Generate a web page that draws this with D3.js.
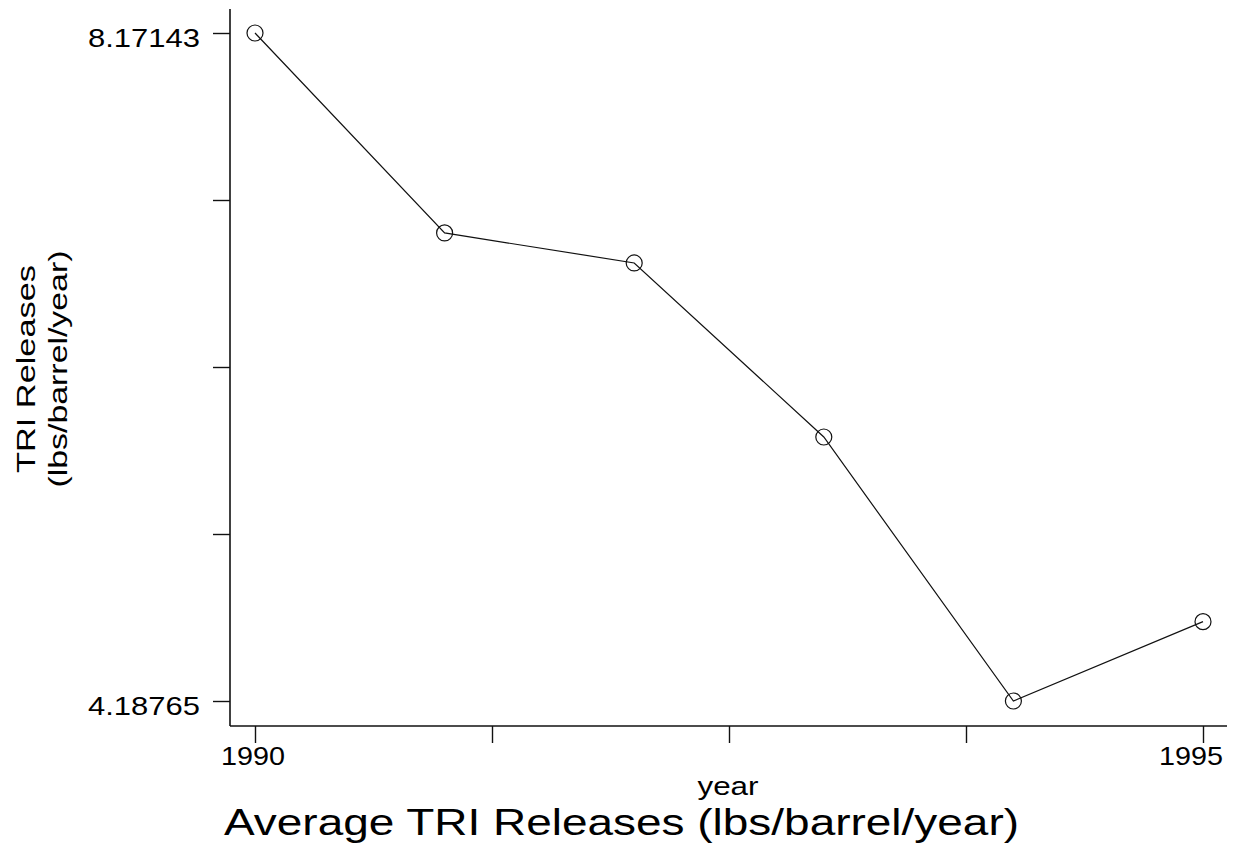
<!DOCTYPE html>
<html>
<head>
<meta charset="utf-8">
<script src="https://cdn.jsdelivr.net/npm/d3@7"></script>
<style>
  body { margin: 0; background: #fff; }
  text { font-family: "Liberation Sans", Arial, sans-serif; fill: #000; }
</style>
</head>
<body>
<svg id="chart" width="1233" height="851"></svg>
<script>
// data
var years = [1990, 1991, 1992, 1993, 1994, 1995];
var releases = [8.17143, 6.979, 6.800, 5.762, 4.18765, 4.661];

var xTickValues = [1990, 1991.25, 1992.5, 1993.75, 1995];
var xTickLabels = ["1990", "", "", "", "1995"];
var yMin = 4.18765, yMax = 8.17143;
var yTickValues = d3.range(5).map(function (i) { return yMin + i * (yMax - yMin) / 4; });
var yTickLabels = ["4.18765", "", "", "", "8.17143"];

var svg = d3.select("#chart");

var x = d3.scaleLinear().domain([1990, 1995]).range([255, 1203]);
var y = d3.scaleLinear().domain([yMin, yMax]).range([701, 33]);

// axis lines run a bit past the data range, like the original
svg.append("line")
    .attr("x1", 230).attr("x2", 230)
    .attr("y1", 9).attr("y2", 726)
    .attr("stroke", "#111").attr("stroke-width", 1.6);
svg.append("line")
    .attr("x1", 230).attr("x2", 1227)
    .attr("y1", 726).attr("y2", 726)
    .attr("stroke", "#111").attr("stroke-width", 1.6);

var xAxis = svg.append("g")
    .attr("transform", "translate(0,726)")
    .call(d3.axisBottom(x).tickValues(xTickValues).tickSize(17).tickSizeOuter(0).tickFormat(""));
xAxis.select(".domain").remove();
xAxis.selectAll(".tick line").attr("stroke", "#111").attr("stroke-width", 1.4);

var yAxis = svg.append("g")
    .attr("transform", "translate(230,0)")
    .call(d3.axisLeft(y).tickValues(yTickValues).tickSize(17).tickSizeOuter(0).tickFormat(""));
yAxis.select(".domain").remove();
yAxis.selectAll(".tick line").attr("stroke", "#111").attr("stroke-width", 1.4);

// tick labels
xTickValues.forEach(function (v, i) {
    if (!xTickLabels[i]) return;
    svg.append("text")
        .text(xTickLabels[i])
        .attr("x", x(v) + (i === xTickValues.length - 1 ? -12 : -2))
        .attr("y", 765)
        .attr("text-anchor", "middle")
        .attr("font-size", 25)
        .attr("textLength", 64)
        .attr("lengthAdjust", "spacingAndGlyphs");
});
yTickValues.forEach(function (v, i) {
    if (!yTickLabels[i]) return;
    svg.append("text")
        .text(yTickLabels[i])
        .attr("x", 200)
        .attr("y", y(v) + 14)
        .attr("text-anchor", "end")
        .attr("font-size", 25)
        .attr("textLength", 112)
        .attr("lengthAdjust", "spacingAndGlyphs");
});

// the series
var line = d3.line()
    .x(function (d, i) { return x(years[i]); })
    .y(function (d) { return y(d); });

svg.append("path")
    .datum(releases)
    .attr("d", line)
    .attr("fill", "none")
    .attr("stroke", "#111")
    .attr("stroke-width", 1.2);

svg.selectAll("circle.pt")
    .data(releases)
    .enter().append("circle")
    .attr("class", "pt")
    .attr("cx", function (d, i) { return x(years[i]); })
    .attr("cy", function (d) { return y(d); })
    .attr("r", 8)
    .attr("fill", "none")
    .attr("stroke", "#111")
    .attr("stroke-width", 1.2);

// axis titles
svg.append("text")
    .text("year")
    .attr("x", 728)
    .attr("y", 795)
    .attr("text-anchor", "middle")
    .attr("font-size", 25)
    .attr("textLength", 61)
    .attr("lengthAdjust", "spacingAndGlyphs");

svg.append("text")
    .attr("transform", "translate(35,369) rotate(-90)")
    .attr("text-anchor", "middle")
    .attr("font-size", 25)
    .attr("textLength", 208)
    .attr("lengthAdjust", "spacingAndGlyphs")
    .text("TRI Releases");
svg.append("text")
    .attr("transform", "translate(67,369) rotate(-90)")
    .attr("text-anchor", "middle")
    .attr("font-size", 25)
    .attr("textLength", 237)
    .attr("lengthAdjust", "spacingAndGlyphs")
    .text("(lbs/barrel/year)");

svg.append("text")
    .text("Average TRI Releases (lbs/barrel/year)")
    .attr("x", 224)
    .attr("y", 835)
    .attr("font-size", 36)
    .attr("textLength", 795)
    .attr("lengthAdjust", "spacingAndGlyphs");
</script>
</body>
</html>
